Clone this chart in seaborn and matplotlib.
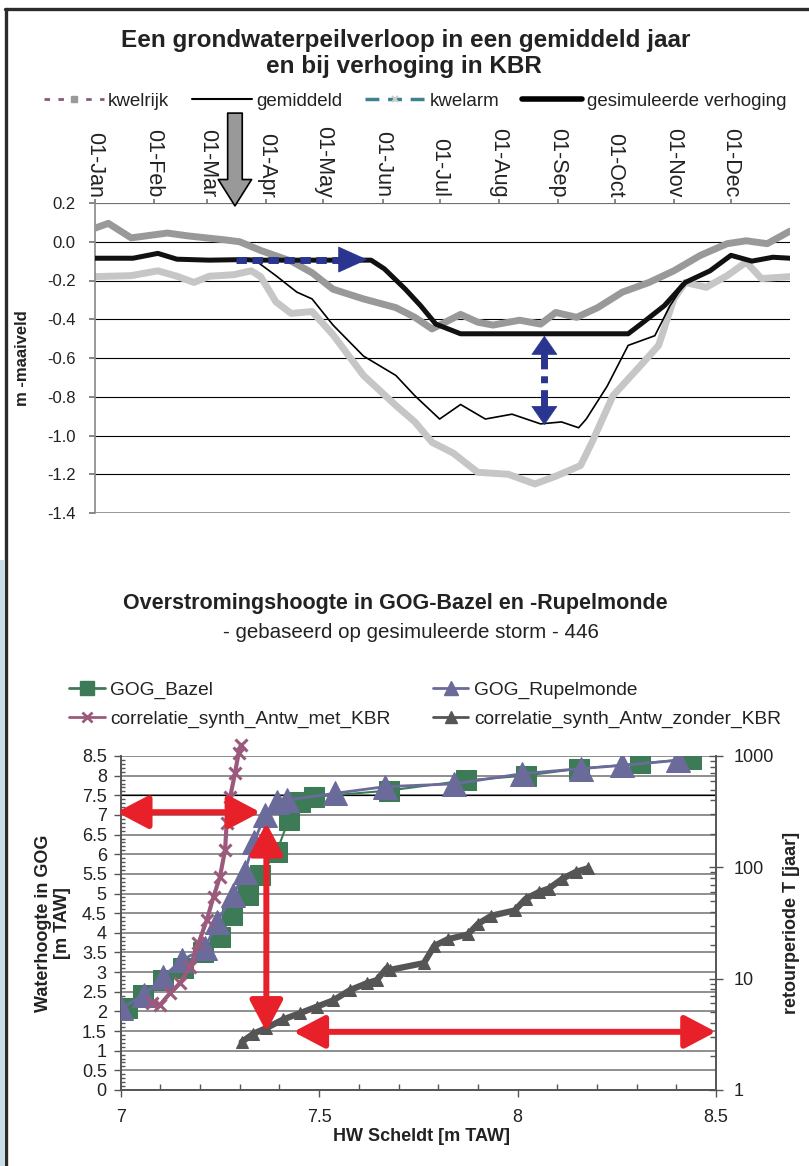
import numpy as np
import matplotlib
matplotlib.use('Agg')
import matplotlib.pyplot as plt
import seaborn as sns
from matplotlib.lines import Line2D
from matplotlib.patches import Rectangle
from matplotlib.ticker import FixedLocator, MultipleLocator, LogLocator, NullFormatter, FuncFormatter

# ---------------- data: top chart (groundwater level, m below surface) -------------
month_start = [0, 31, 59, 90, 120, 151, 181, 212, 243, 273, 304, 334]
month_labels = ['01-Jan', '01-Feb', '01-Mar', '01-Apr', '01-May', '01-Jun',
                '01-Jul', '01-Aug', '01-Sep', '01-Oct', '01-Nov', '01-Dec']

kwelrijk_day = [0, 7, 19, 38, 49, 68, 76, 87, 103, 114, 125, 141, 158, 168, 177, 185, 192,
                201, 209, 223, 234, 242, 253, 264, 277, 291, 304, 318, 332, 342, 353, 365]
kwelrijk = [0.07, 0.095, 0.02, 0.045, 0.03, 0.01, 0.0, -0.045, -0.10, -0.16, -0.245, -0.295,
            -0.34, -0.39, -0.45, -0.41, -0.375, -0.415, -0.43, -0.405, -0.425, -0.365, -0.39,
            -0.34, -0.26, -0.21, -0.15, -0.07, -0.01, 0.005, -0.01, 0.055]

gemiddeld_day = [0, 20, 33, 43, 60, 79, 84, 95, 106, 114, 125, 141, 158, 168, 181, 192, 205,
                 219, 234, 245, 254, 258, 269, 280, 294, 302, 310, 323, 334, 345, 356, 365]
gemiddeld = [-0.085, -0.085, -0.06, -0.09, -0.095, -0.092, -0.095, -0.175, -0.26, -0.295,
             -0.43, -0.59, -0.69, -0.795, -0.915, -0.84, -0.915, -0.89, -0.94, -0.93, -0.96,
             -0.915, -0.745, -0.535, -0.485, -0.33, -0.21, -0.15, -0.07, -0.1, -0.08, -0.085]

verhoging_day = [0, 20, 33, 43, 60, 79, 84, 100, 120, 145, 152, 163, 171, 179, 192, 280, 288,
                 299, 310, 323, 334, 345, 356, 365]
verhoging = [-0.085, -0.085, -0.06, -0.09, -0.095, -0.092, -0.095, -0.095, -0.095, -0.095,
             -0.14, -0.245, -0.33, -0.425, -0.475, -0.475, -0.415, -0.33, -0.21, -0.15,
             -0.07, -0.1, -0.08, -0.085]

kwelarm_day = [0, 19, 33, 43, 52, 60, 73, 82, 87, 95, 103, 114, 125, 141, 158, 168, 177, 188,
               201, 217, 231, 242, 255, 261, 272, 285, 296, 304, 310, 321, 332, 342, 350, 365]
kwelarm = [-0.18, -0.175, -0.15, -0.178, -0.21, -0.178, -0.17, -0.15, -0.18, -0.31, -0.37,
           -0.36, -0.48, -0.69, -0.845, -0.93, -1.035, -1.09, -1.19, -1.2, -1.25, -1.21,
           -1.155, -1.035, -0.795, -0.655, -0.535, -0.295, -0.21, -0.235, -0.175, -0.105,
           -0.19, -0.18]

# ---------------- data: bottom chart ----------------
bazel_x = [7.015, 7.057, 7.107, 7.158, 7.208, 7.25, 7.28, 7.322, 7.351, 7.393, 7.423, 7.452,
           7.486, 7.675, 7.871, 8.02, 8.156, 8.309, 8.437]
bazel_y = [2.08, 2.42, 2.80, 3.10, 3.52, 3.90, 4.45, 4.96, 5.47, 6.06, 6.87, 7.34, 7.46,
           7.62, 7.88, 8.00, 8.18, 8.31, 8.43]

rupel_x = [7.0, 7.059, 7.107, 7.154, 7.213, 7.242, 7.284, 7.313, 7.336, 7.364, 7.393, 7.419,
           7.54, 7.666, 7.839, 8.012, 8.161, 8.263, 8.403]
rupel_y = [2.08, 2.42, 2.88, 3.31, 3.61, 4.28, 4.96, 5.56, 6.32, 7.0, 7.34, 7.38, 7.55, 7.72,
           7.79, 8.05, 8.18, 8.26, 8.39]

met_x = [7.078, 7.099, 7.124, 7.149, 7.175, 7.196, 7.217, 7.234, 7.25, 7.263, 7.267, 7.276,
         7.288, 7.297, 7.303]
met_T = [6.0, 5.8, 7.4, 9.1, 12.8, 20.8, 33.7, 54.5, 82, 143, 249, 432, 700, 1060, 1260]

zonder_x = [7.305, 7.334, 7.367, 7.409, 7.452, 7.494, 7.536, 7.578, 7.62, 7.645, 7.67, 7.679,
            7.764, 7.79, 7.824, 7.875, 7.9, 7.934, 7.993, 8.02, 8.054, 8.079, 8.113, 8.147,
            8.177]
zonder_T = [2.7, 3.2, 3.6, 4.3, 4.9, 5.6, 6.4, 7.9, 9.1, 9.7, 12.4, 12.0, 13.8, 19.7, 22.6,
            25, 31, 36.8, 41, 52, 60, 64.5, 79, 91, 98]

# ---------------- style ----------------
sns.set_theme(style='white')
plt.rcParams['font.family'] = ['Liberation Sans', 'DejaVu Sans']

W, H = 809, 1166
fig = plt.figure(figsize=(W / 100, H / 100), dpi=100)


def fx(px):
    return px / W


def fy(py):
    return 1 - py / H


# frame and side strip
fig.add_artist(Rectangle((0, 0), fx(4), fy(560), transform=fig.transFigure,
                         color='#c9dde9', lw=0))
fig.add_artist(Line2D([fx(5.5), fx(5.5)], [0, fy(8.5)], transform=fig.transFigure,
                      color='#2b2b2b', lw=2.4))
fig.add_artist(Line2D([fx(4.5), 1], [fy(9), fy(9)], transform=fig.transFigure,
                      color='#2b2b2b', lw=2.4))

# ================= TOP CHART =================
fig.text(fx(406), fy(40), 'Een grondwaterpeilverloop in een gemiddeld jaar', ha='center',
         va='center', fontsize=17.5, fontweight='bold', color='#222')
fig.text(fx(404), fy(67), 'en bij verhoging in KBR', ha='center', va='center', fontsize=17.5,
         fontweight='bold', color='#222')

ax1 = fig.add_axes([fx(95), fy(513), fx(790) - fx(95), fy(203) - fy(513)])
sns.lineplot(x=kwelarm_day, y=kwelarm, ax=ax1, color='#c6c6c6', lw=5, estimator=None,
             sort=False, legend=False, zorder=2)
sns.lineplot(x=kwelrijk_day, y=kwelrijk, ax=ax1, color='#999999', lw=5, estimator=None,
             sort=False, legend=False, zorder=3)
sns.lineplot(x=gemiddeld_day, y=gemiddeld, ax=ax1, color='black', lw=1.2, estimator=None,
             sort=False, legend=False, zorder=4)
sns.lineplot(x=verhoging_day, y=verhoging, ax=ax1, color='#111111', lw=3.6, estimator=None,
             sort=False, legend=False, zorder=5)

ax1.set_xlim(0, 365)
ax1.set_ylim(-1.4, 0.2)
ax1.set_yticks(np.round(np.arange(-1.4, 0.21, 0.2), 1))
ax1.yaxis.set_major_formatter(FuncFormatter(lambda v, p: f'{v:.1f}'.replace('-0.0', '0.0')))
ax1.tick_params(axis='y', labelsize=12, length=4, color='#777', left=True, pad=10,
                labelcolor='#222')
ax1.xaxis.tick_top()
ax1.set_xticks(month_start)
ax1.set_xticklabels(month_labels, rotation=270, fontsize=15.5, color='#222')
ax1.tick_params(axis='x', top=True, length=3, color='#777', pad=1)
ax1.grid(axis='y', color='black', lw=0.8)
ax1.grid(axis='x', visible=False)
for s in ['right', 'bottom', 'top']:
    ax1.spines[s].set_visible(False)
ax1.spines['left'].set_color('#888')
ax1.spines['left'].set_linewidth(1.2)
ax1.axhline(0.2, color='#888', lw=1.2, zorder=1)
ax1.axhline(-1.4, color='#888', lw=1.2, zorder=1)
ax1.set_ylabel('m -maaiveld', fontsize=12, fontweight='bold', color='#222', labelpad=12)
ax1.set_xlabel('')

# grey arrow (start of period)
ax1.annotate('', xy=(73.5, 0.185), xycoords='data', xytext=(73.5, 1.29),
             textcoords=('data', 'axes fraction'),
             arrowprops=dict(arrowstyle='simple,head_length=1.9,head_width=2.4,tail_width=1.05',
                             mutation_scale=10, fc='#999999', ec='black', lw=1.2,
                             shrinkA=0, shrinkB=0),
             annotation_clip=False, zorder=10)

# blue arrows
blue = '#2a3590'
ax1.plot([74, 130], [-0.092, -0.092], color=blue, lw=5, ls=(0, (1.5, 0.8)),
         solid_capstyle='butt', dash_capstyle='butt', zorder=8)
ax1.annotate('', xy=(143, -0.092), xytext=(128, -0.092),
             arrowprops=dict(arrowstyle='-|>,head_length=1.0,head_width=0.45',
                             mutation_scale=20, fc=blue, ec=blue, lw=0.5,
                             shrinkA=0, shrinkB=0), zorder=9)
ax1.plot([236, 236], [-0.55, -0.88], color=blue, lw=5, ls=(0, (3, 1, 1, 1)),
         dash_capstyle='butt', zorder=8)
ax1.annotate('', xy=(236, -0.485), xytext=(236, -0.56),
             arrowprops=dict(arrowstyle='-|>,head_length=0.65,head_width=0.45',
                             mutation_scale=20, fc=blue, ec=blue, lw=0.5,
                             shrinkA=0, shrinkB=0), zorder=9)
ax1.annotate('', xy=(236, -0.946), xytext=(236, -0.87),
             arrowprops=dict(arrowstyle='-|>,head_length=0.65,head_width=0.45',
                             mutation_scale=20, fc=blue, ec=blue, lw=0.5,
                             shrinkA=0, shrinkB=0), zorder=9)

top_handles = [
    Line2D([], [], color='#8a5a7c', lw=2, ls=(0, (2, 3)), marker='s', ms=4,
           mfc='#9a9a9a', mec='#9a9a9a'),
    Line2D([], [], color='black', lw=1.5),
    Line2D([], [], color='#3e8292', lw=2.5, ls=(0, (4, 2.5)), marker='x', ms=5,
           mec='#cccccc', mew=1.5),
    Line2D([], [], color='black', lw=4),
]
fig.legend(top_handles, ['kwelrijk', 'gemiddeld', 'kwelarm', 'gesimuleerde verhoging'],
           loc='center', bbox_to_anchor=(fx(415), fy(101)), ncol=4, frameon=False,
           fontsize=13.5, handlelength=3.2, handletextpad=0.25, columnspacing=1.2,
           labelcolor='#222')

# ================= BOTTOM CHART =================
fig.text(fx(395), fy(604), 'Overstromingshoogte in GOG-Bazel en -Rupelmonde', ha='center',
         va='center', fontsize=15.5, fontweight='bold', color='#222')
fig.text(fx(411), fy(633), '- gebaseerd op gesimuleerde storm - 446', ha='center',
         va='center', fontsize=14.8, color='#222')

green = '#3d7b57'
slate = '#6a6a9b'
mauve = '#9b5a7b'
dgray = '#555555'
red = '#e8202a'

ax2 = fig.add_axes([fx(120.7), fy(1090), fx(716) - fx(120.7), fy(756) - fy(1090)])
ax2.set_xlim(7, 8.5)
ax2.set_ylim(0, 8.5)
ax2.set_yticks(np.arange(0, 8.51, 0.5))
ax2.yaxis.set_minor_locator(MultipleLocator(0.1))
ax2.set_xticks([7, 7.5, 8, 8.5])
ax2.xaxis.set_minor_locator(MultipleLocator(0.1))
ax2.xaxis.set_major_formatter(FuncFormatter(lambda v, p: f'{v:g}'))
ax2.yaxis.set_major_formatter(FuncFormatter(lambda v, p: f'{v:g}'))
ax2.grid(axis='y', color='#8e8e8e', lw=1.4, zorder=0)
ax2.grid(axis='x', visible=False)
ax2.axhline(7.5, color='black', lw=0.9, zorder=1)
ax2.tick_params(axis='both', which='major', labelsize=13, labelcolor='#222', color='#555',
                direction='out', length=5, width=1)
ax2.tick_params(axis='y', which='minor', left=True, direction='in', length=3, color='#555')
ax2.tick_params(axis='x', which='minor', bottom=True, direction='in', length=4, color='#555')
ax2.tick_params(axis='x', which='major', pad=9)
ax2.tick_params(axis='y', which='major', pad=5)
ax2.tick_params(left=True, bottom=True)
for s in ['top', 'right']:
    ax2.spines[s].set_visible(False)
for s in ['left', 'bottom']:
    ax2.spines[s].set_color('#555')
    ax2.spines[s].set_linewidth(1.4)

sns.lineplot(x=bazel_x, y=bazel_y, ax=ax2, color=green, lw=1.5, marker='s', ms=15,
             mec=green, estimator=None, sort=False, legend=False, zorder=3)
sns.lineplot(x=rupel_x, y=rupel_y, ax=ax2, color=slate, lw=2, marker='^', ms=17,
             mec=slate, estimator=None, sort=False, legend=False, zorder=4)
ax2.set_xlabel('HW Scheldt [m TAW]', fontsize=13, fontweight='bold', color='#222')
ax2.xaxis.set_label_coords(0.505, -0.115)
ax2.set_ylabel('Waterhoogte in GOG\n[m TAW]', fontsize=13, fontweight='bold', color='#222',
               linespacing=1.1, labelpad=8)

ax3 = ax2.twinx()
ax3.set_yscale('log')
ax3.set_ylim(1, 1000)
ax3.yaxis.set_major_locator(FixedLocator([1, 10, 100, 1000]))
ax3.yaxis.set_major_formatter(FuncFormatter(lambda v, p: f'{v:g}'))
ax3.yaxis.set_minor_locator(LogLocator(base=10, subs=np.arange(2, 10)))
ax3.yaxis.set_minor_formatter(NullFormatter())
ax3.tick_params(axis='y', which='major', labelsize=13, labelcolor='#222', color='#555',
                direction='inout', length=10, width=1, right=True, pad=8)
ax3.tick_params(axis='y', which='minor', right=True, direction='in', length=4,
                color='#555')
for s in ['top', 'left', 'bottom']:
    ax3.spines[s].set_visible(False)
ax3.spines['right'].set_color('#555')
ax3.spines['right'].set_linewidth(1.4)
ax3.grid(False)

sns.lineplot(x=zonder_x, y=zonder_T, ax=ax3, color=dgray, lw=4.5, marker='^', ms=9,
             mec=dgray, estimator=None, sort=False, legend=False, zorder=3)
sns.lineplot(x=met_x, y=met_T, ax=ax3, color=mauve, lw=3, marker='x', ms=8, mew=2.2,
             mec=mauve, estimator=None, sort=False, legend=False, zorder=4, clip_on=False)
ax3.set_ylabel('retourperiode T [jaar]', fontsize=13, fontweight='bold', color='#222',
               labelpad=6)
ax3.set_xlabel('')

# red arrows
rp = dict(arrowstyle='<|-|>,head_length=0.95,head_width=0.5', mutation_scale=20,
          color=red, lw=4.3, shrinkA=0, shrinkB=0)
ax3.annotate('', xy=(6.99, 7.07), xycoords=ax2.transData, xytext=(7.352, 7.07),
             textcoords=ax2.transData, arrowprops=rp, annotation_clip=False, zorder=10)
ax3.annotate('', xy=(7.367, 6.8), xycoords=ax2.transData, xytext=(7.367, 1.48),
             textcoords=ax2.transData, arrowprops=rp, annotation_clip=False, zorder=10)
ax3.annotate('', xy=(7.435, 1.48), xycoords=ax2.transData, xytext=(8.5, 1.48),
             textcoords=ax2.transData, arrowprops=rp, annotation_clip=False, zorder=10)

bottom_handles = [
    Line2D([], [], color=green, lw=2, marker='s', ms=10, mec=green),
    Line2D([], [], color=mauve, lw=2, marker='x', ms=7, mew=2, mec=mauve),
    Line2D([], [], color=slate, lw=2, marker='^', ms=10, mec=slate),
    Line2D([], [], color=dgray, lw=2, marker='^', ms=8, mec=dgray),
]
fig.legend(bottom_handles, ['GOG_Bazel', 'correlatie_synth_Antw_met_KBR', 'GOG_Rupelmonde',
                            'correlatie_synth_Antw_zonder_KBR'],
           loc='upper left', bbox_to_anchor=(fx(52), fy(664)), ncol=2, frameon=False,
           fontsize=13.8, handlelength=1.85, handletextpad=0.3, columnspacing=2.2,
           labelspacing=0.6, labelcolor='#222')

fig.savefig('out.png', dpi=100)
